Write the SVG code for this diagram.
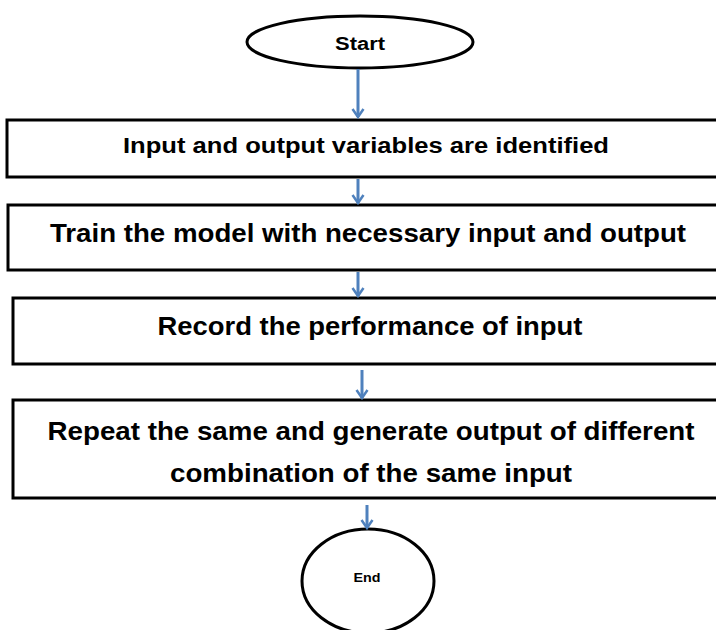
<svg xmlns="http://www.w3.org/2000/svg" width="716" height="630" viewBox="0 0 716 630">
<defs>
<marker id="ah" markerWidth="12" markerHeight="14" refX="10" refY="7" orient="auto" markerUnits="userSpaceOnUse" viewBox="0 0 12 14">
<polyline points="2,1.5 10,7 2,12.5" fill="none" stroke="#4F81BD" stroke-width="2.5"/>
</marker>
</defs>
<style>
.box{fill:#fff;stroke:#000;stroke-width:3}
.t{font-family:"Liberation Sans",Arial,sans-serif;font-weight:bold;fill:#000;text-anchor:middle}
.c{stroke:#4F81BD;stroke-width:3;fill:none;marker-end:url(#ah)}
</style>
<rect width="716" height="630" fill="#fff"/>
<g id="start">
<ellipse class="box" cx="360" cy="42" rx="113" ry="26"/>
<text class="t" x="360" y="50" font-size="18" textLength="50" lengthAdjust="spacingAndGlyphs">Start</text>
</g>
<g id="n1">
<rect class="box" x="7" y="120" width="720" height="57"/>
<text class="t" x="366" y="153" font-size="22" textLength="486" lengthAdjust="spacingAndGlyphs">Input and output variables are identified</text>
</g>
<g id="n2">
<rect class="box" x="8" y="205" width="720" height="65"/>
<text class="t" x="368" y="242" font-size="25" textLength="636" lengthAdjust="spacingAndGlyphs">Train the model with necessary input and output</text>
</g>
<g id="n3">
<rect class="box" x="13" y="298" width="720" height="66"/>
<text class="t" x="370" y="335" font-size="25" textLength="425" lengthAdjust="spacingAndGlyphs">Record the performance of input</text>
</g>
<g id="n4">
<rect class="box" x="13" y="400" width="720" height="98"/>
<text class="t" x="371" y="440" font-size="26" textLength="647" lengthAdjust="spacingAndGlyphs">Repeat the same and generate output of different</text>
<text class="t" x="371" y="482" font-size="26" textLength="402" lengthAdjust="spacingAndGlyphs">combination of the same input</text>
</g>
<g id="end">
<ellipse class="box" cx="368" cy="581" rx="66" ry="52"/>
<text class="t" x="367" y="582" font-size="13" textLength="27" lengthAdjust="spacingAndGlyphs">End</text>
</g>
<g id="connectors">
<line class="c" x1="358" y1="69" x2="358" y2="117"/>
<line class="c" x1="358" y1="179" x2="358" y2="203"/>
<line class="c" x1="358" y1="272" x2="358" y2="296"/>
<line class="c" x1="362" y1="370" x2="362" y2="398"/>
<line class="c" x1="367" y1="505" x2="367" y2="528"/>
</g>
</svg>
